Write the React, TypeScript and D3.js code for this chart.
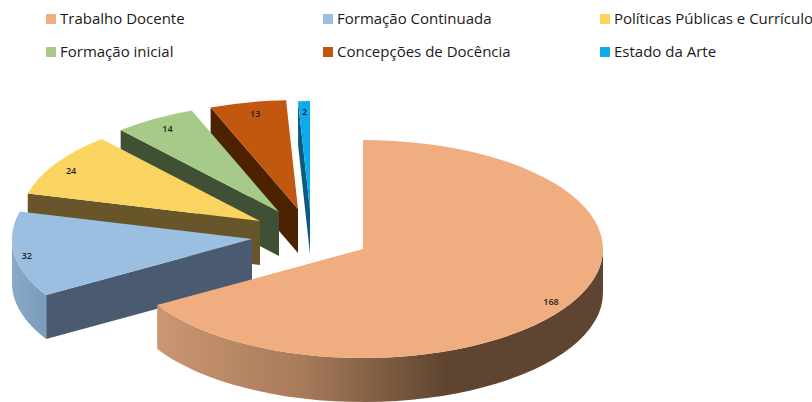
import * as d3 from "d3";

const categories = [
  "Trabalho Docente", "Formação Continuada", "Políticas Públicas e Currículo",
  "Formação inicial", "Concepções de Docência", "Estado da Arte",
];
const values = [168, 32, 24, 14, 13, 2];

const topColors = ["#f0ad7f", "#9bbfe0", "#f9d461", "#a6cb88", "#c2570f", "#0dabeb"];
const cutColors = ["#8a6244", "#4a5a70", "#68552a", "#3f5035", "#4d2200", "#0d5a80"];

// how far each slice was dragged away from the pie centre
const explodeX = [0, -111, -103, -84, -65, -53];
const explodeY = [0, -10, -28, -37, -40, -39];

// small hand nudges for the value labels
const labelDx = [-2, -9, -3, 2, 3, 0];
const labelDy = [4, 3, 2, 2, 2, 1];

const width = 812;
const height = 402;
const cx = 363;
const cy = 249;
const rx = 240;
const ry = 109;
const depth = 44;
const labelRadius = 0.91;

const legendX = [46, 323, 600];
const legendY = [19, 52];

const slices = d3.pie<number>().sort(null)(values);
const arc = d3.arc<d3.PieArcDatum<number>>().innerRadius(0).outerRadius(rx);

// angle in radians, clockwise from 12 o'clock, flattened onto the ellipse
const px = (i: number, a: number) => cx + explodeX[i] + Math.sin(a) * rx;
const py = (i: number, a: number) => cy + explodeY[i] - Math.cos(a) * ry;

function rimPath(i: number, from: number, to: number) {
  const steps = d3.range(0, 41).map((k) => from + ((to - from) * k) / 40);
  return d3.area<number>()
    .x((a) => px(i, a))
    .y0((a) => py(i, a))
    .y1((a) => py(i, a) + depth)(steps) as string;
}

// the flat wall going from the centre out to the start edge of a slice
function cutPath(i: number, a: number) {
  const ax = cx + explodeX[i];
  const ay = cy + explodeY[i];
  const pts: [number, number][] = [
    [ax, ay], [px(i, a), py(i, a)],
    [px(i, a), py(i, a) + depth], [ax, ay + depth],
  ];
  return d3.line()(pts) + "Z";
}

const font = "'Open Sans', sans-serif";

export default function App() {
  // painter's order: back slices first, the big one last
  const order = [5, 4, 3, 2, 1, 0];
  return (
    <svg width={width} height={height} style={{ position: "absolute", left: 0, top: 0, background: "#fff" }}>
      <defs>
        <linearGradient id="rimBig" gradientUnits="userSpaceOnUse" x1={158} x2={445} y1={0} y2={0}>
          <stop offset="0" stopColor="#cb9672" />
          <stop offset="0.5" stopColor="#a87b5a" />
          <stop offset="1" stopColor="#5f4530" />
        </linearGradient>
        <linearGradient id="rimBlue" gradientUnits="userSpaceOnUse" x1={13} x2={47} y1={0} y2={0}>
          <stop offset="0" stopColor="#8aa9c9" />
          <stop offset="1" stopColor="#7b9bbb" />
        </linearGradient>
      </defs>

      {categories.map((c, i) => {
        const x = legendX[i % 3];
        const y = legendY[Math.floor(i / 3)];
        return (
          <g key={c}>
            <rect x={x} y={y - 5} width={10} height={10} fill={topColors[i]} />
            <text x={x + 14} y={y + 5} fontFamily={font} fontSize={15} fill="#1a1a1a">{c}</text>
          </g>
        );
      })}

      {order.map((i) => {
        const s = slices[i];
        return (
          <g key={categories[i]}>
            {i !== 0 && <path d={cutPath(i, s.startAngle)} fill={cutColors[i]} />}
            {i === 0 && <path d={rimPath(0, Math.PI / 2, s.endAngle)} fill="url(#rimBig)" />}
            {i === 1 && <path d={rimPath(1, s.startAngle, Math.PI * 1.5)} fill="url(#rimBlue)" />}
            <path
              d={arc(s) as string}
              fill={topColors[i]}
              transform={`translate(${cx + explodeX[i]},${cy + explodeY[i]}) scale(1,${ry / rx})`}
            />
          </g>
        );
      })}

      {slices.map((s, i) => {
        const mid = (s.startAngle + s.endAngle) / 2;
        const x = px(i, 0) + Math.sin(mid) * rx * labelRadius + labelDx[i];
        const y = cy + explodeY[i] - Math.cos(mid) * ry * labelRadius + 3 + labelDy[i];
        return (
          <text key={i} x={x} y={y} textAnchor="middle" fontFamily={font} fontSize={9} fontWeight={600} fill="#222">
            {values[i]}
          </text>
        );
      })}
    </svg>
  );
}
